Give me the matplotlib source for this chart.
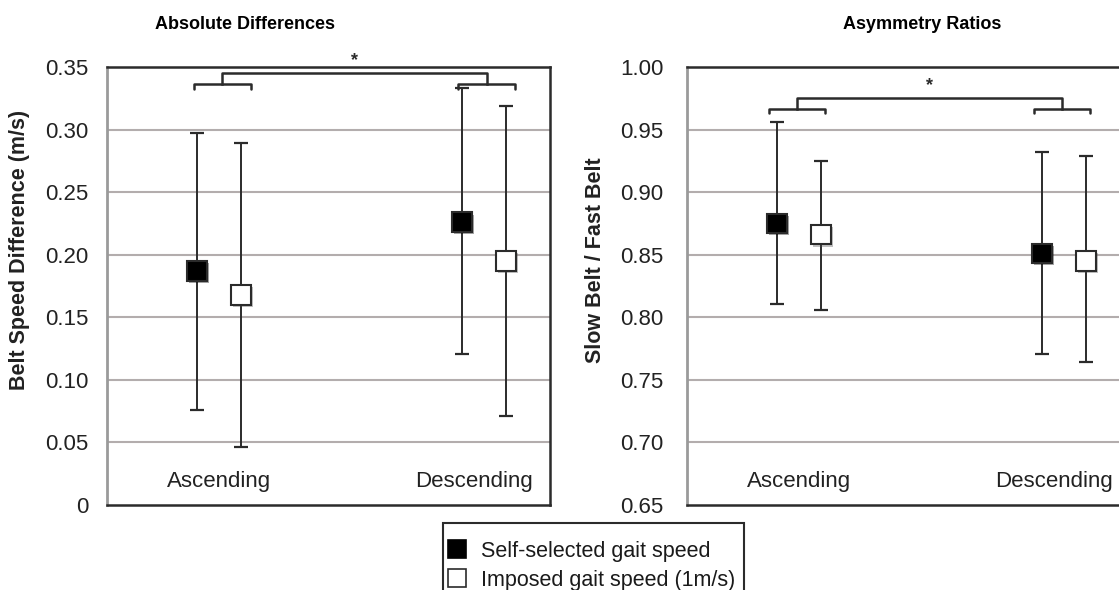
import numpy as np
import matplotlib.pyplot as plt
from matplotlib.lines import Line2D
from matplotlib.patches import Rectangle
import matplotlib.patheffects as pe

plt.rcParams['font.family'] = ['Liberation Sans', 'DejaVu Sans']

# conditions and group positions
groups = ['Ascending', 'Descending']
x_pos = np.array([0.0, 1.0])
label_shift = [0.0, -0.036]
offset = 0.083

# absolute belt speed differences (m/s): mean, lower and upper error bounds
diff_self_mean = [0.187, 0.226]
diff_self_low = [0.076, 0.121]
diff_self_high = [0.297, 0.333]
diff_imp_mean = [0.168, 0.195]
diff_imp_low = [0.046, 0.071]
diff_imp_high = [0.289, 0.319]

# asymmetry ratios (slow belt / fast belt)
ratio_self_mean = [0.875, 0.851]
ratio_self_low = [0.811, 0.771]
ratio_self_high = [0.956, 0.932]
ratio_imp_mean = [0.866, 0.845]
ratio_imp_low = [0.806, 0.764]
ratio_imp_high = [0.925, 0.929]

legend_labels = ['Self-selected gait speed', 'Imposed gait speed (1m/s)']
legend_faces = ['black', 'white']

dark = '#2b2b2b'
grid_col = '#b3adad'
shadow = [pe.SimplePatchShadow(offset=(1.5, -1.5), alpha=0.35), pe.Normal()]


def draw_series(ax, xs, mean, low, high, face):
    mean = np.array(mean)
    yerr = [mean - np.array(low), np.array(high) - mean]
    ax.errorbar(xs, mean, yerr=yerr, fmt='none', ecolor=dark, elinewidth=1.4,
                capsize=5, capthick=1.6, zorder=3)
    ax.plot(xs, mean, 's', ms=14, mfc=face, mec=dark, mew=1.5, zorder=4,
            path_effects=shadow)


def draw_brackets(ax, lo, hi, y_small, y_tip, y_big, y_star):
    mids = []
    for c in x_pos:
        a, b = c + lo, c + hi
        ax.plot([a, a, b, b], [y_tip, y_small, y_small, y_tip], color=dark, lw=1.8,
                solid_joinstyle='round', solid_capstyle='round', clip_on=False, zorder=5)
        m = (a + b) / 2
        mids.append(m)
    ax.plot([mids[0], mids[0], mids[1], mids[1]], [y_small, y_big, y_big, y_small],
            color=dark, lw=1.8, solid_joinstyle='round', clip_on=False, zorder=5)
    ax.text((mids[0] + mids[1]) / 2, y_star, '*', ha='center', va='center',
            fontsize=13, fontweight='bold', color=dark, clip_on=False)


def style_axes(ax, ymin, ymax, ticks, fmt, pad):
    ax.set_xlim(-0.423, 1.25)
    ax.set_ylim(ymin, ymax)
    ax.set_xticks([])
    ax.set_yticks(ticks)
    ax.set_yticklabels([fmt(t) for t in ticks])
    ax.tick_params(axis='y', length=0, pad=pad, labelsize=16, labelcolor='#222222')
    for t in ticks[1:-1]:
        ax.axhline(t, color=grid_col, lw=1.5, zorder=1)
    for s in ['top', 'bottom', 'right']:
        ax.spines[s].set_color(dark)
        ax.spines[s].set_linewidth(1.8)
    ax.spines['left'].set_color('#9a9a9a')
    ax.spines['left'].set_linewidth(2)


fig = plt.figure(figsize=(11.19, 5.90), dpi=100)
ax1 = fig.add_axes([0.0956, 0.144, 0.396, 0.7424])
ax2 = fig.add_axes([0.614, 0.144, 0.396, 0.7424])

# left panel: absolute differences
style_axes(ax1, 0, 0.35, np.round(np.arange(0, 0.351, 0.05), 2),
           lambda v: '0' if v == 0 else f'{v:.2f}', 13.5)
draw_series(ax1, x_pos - offset, diff_self_mean, diff_self_low, diff_self_high, 'black')
draw_series(ax1, x_pos + offset, diff_imp_mean, diff_imp_low, diff_imp_high, 'white')
draw_brackets(ax1, -0.096, 0.119, 0.3368, 0.3328, 0.3456, 0.3553)
for c, s, g in zip(x_pos, label_shift, groups):
    ax1.text(c + s, 0.019, g, ha='center', va='center', fontsize=16, color='#222222')
ax1.set_ylabel('Belt Speed Difference (m/s)', fontsize=15.5, fontweight='bold',
               color='#222222')
ax1.yaxis.set_label_coords(-0.174, 0.582)

# right panel: asymmetry ratios
style_axes(ax2, 0.65, 1.0, np.round(np.arange(0.65, 1.001, 0.05), 2),
           lambda v: f'{v:.2f}', 17)
draw_series(ax2, x_pos - offset, ratio_self_mean, ratio_self_low, ratio_self_high, 'black')
draw_series(ax2, x_pos + offset, ratio_imp_mean, ratio_imp_low, ratio_imp_high, 'white')
draw_brackets(ax2, -0.113, 0.098, 0.9668, 0.9634, 0.9756, 0.9855)
for c, s, g in zip(x_pos, label_shift, groups):
    ax2.text(c + s, 0.669, g, ha='center', va='center', fontsize=16, color='#222222')
ax2.set_ylabel('Slow Belt / Fast Belt', fontsize=15.5, fontweight='bold',
               color='#222222')
ax2.yaxis.set_label_coords(-0.183, 0.56)

# panel titles
fig.text(0.219, 0.959, 'Absolute Differences', ha='center', va='center',
         fontsize=13, fontweight='bold')
fig.text(0.824, 0.959, 'Asymmetry Ratios', ha='center', va='center',
         fontsize=13, fontweight='bold')

# shared key box below the panels (pixel positions converted to figure fraction)
W, H = 1119, 590
fig.add_artist(Rectangle((443 / W, 1 - 600 / H), 301 / W, 77 / H, transform=fig.transFigure,
                         facecolor='white', edgecolor=dark, lw=1.5))
for i, (lab, face) in enumerate(zip(legend_labels, legend_faces)):
    yk = 1 - (549 + 29 * i) / H
    fig.add_artist(Line2D([457 / W], [yk], marker='s', ls='none', ms=13.5, mfc=face,
                          mec='black' if face == 'black' else dark, mew=1.2,
                          transform=fig.transFigure))
    fig.text(481 / W, yk, lab, ha='left', va='center_baseline', fontsize=15.5,
             color='#1a1a1a')

plt.savefig('out.png', dpi=100)
